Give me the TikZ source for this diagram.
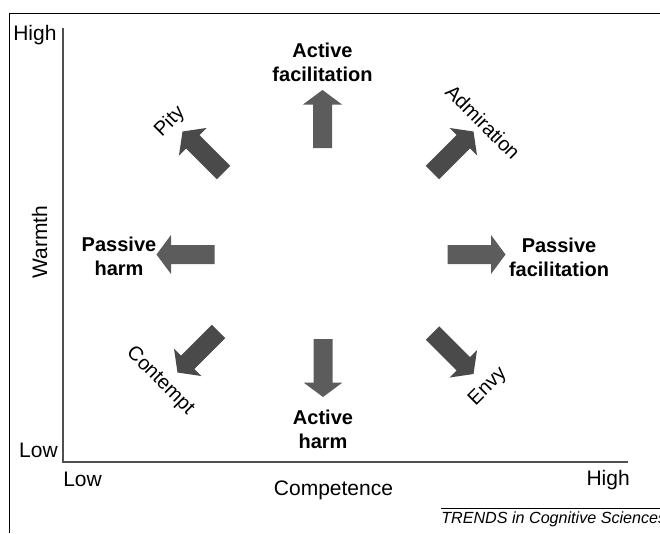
\documentclass[tikz,border=0pt]{standalone}
\usepackage{fontspec}
\setmainfont{Liberation Sans}
\usepackage{tikz}

\tikzset{
  straightarrow/.style={fill={rgb, 255:red, 92; green, 92; blue, 92 }, draw=none},
  diagarrow/.style={fill={rgb, 255:red, 74; green, 74; blue, 74 }, draw=none},
  boldlabel/.style={inner sep=0pt, align=center, font=\fontsize{15}{18.2}\selectfont\bfseries},
  plainlabel/.style={inner sep=0pt, font=\fontsize{15}{18}\selectfont},
  axislabel/.style={inner sep=0pt, font=\fontsize{15.75}{19}\selectfont},
  axisline/.style={draw={rgb, 255:red, 80; green, 80; blue, 80 }, line width=1.2pt}
}

\begin{document}
\begin{tikzpicture}[x=0.75pt,y=0.75pt,yscale=-1,xscale=1]
\useasboundingbox (0,0) rectangle (660,533);

%Frame
\draw [line width=1.3pt] (660,13.5) -- (9.5,13.5) -- (9.5,533) ;

%Axes
\coordinate (ytop) at (63,28);
\coordinate (xend) at (628,462);
\draw [axisline] (ytop) |- (xend) ;

%Shape: Up Arrow
\draw [straightarrow, shift={(322.5,119)}, rotate=-90] (-29,-9.5) -- (14.5,-9.5) -- (14.5,-19.5) -- (29,0) -- (14.5,19.5) -- (14.5,9.5) -- (-29,9.5) -- cycle ;
%Shape: Down Arrow
\draw [straightarrow, shift={(323,368)}, rotate=90] (-29,-9.5) -- (14.5,-9.5) -- (14.5,-19.5) -- (29,0) -- (14.5,19.5) -- (14.5,9.5) -- (-29,9.5) -- cycle ;
%Shape: Left Arrow
\draw [straightarrow, shift={(185.5,254.5)}, rotate=180] (-29,-9.5) -- (14.5,-9.5) -- (14.5,-19.5) -- (29,0) -- (14.5,19.5) -- (14.5,9.5) -- (-29,9.5) -- cycle ;
%Shape: Right Arrow
\draw [straightarrow, shift={(476.5,254.5)}, rotate=0] (-29,-9.5) -- (14.5,-9.5) -- (14.5,-19.5) -- (29,0) -- (14.5,19.5) -- (14.5,9.5) -- (-29,9.5) -- cycle ;
%Shape: Up Right Arrow
\draw [diagarrow, shift={(453,152)}, rotate=-45] (-29,-9.5) -- (14.5,-9.5) -- (14.5,-19.5) -- (29,0) -- (14.5,19.5) -- (14.5,9.5) -- (-29,9.5) -- cycle ;
%Shape: Up Left Arrow
\draw [diagarrow, shift={(203,152)}, rotate=-135] (-29,-9.5) -- (14.5,-9.5) -- (14.5,-19.5) -- (29,0) -- (14.5,19.5) -- (14.5,9.5) -- (-29,9.5) -- cycle ;
%Shape: Down Left Arrow
\draw [diagarrow, shift={(198,352)}, rotate=135] (-29,-9.5) -- (14.5,-9.5) -- (14.5,-19.5) -- (29,0) -- (14.5,19.5) -- (14.5,9.5) -- (-29,9.5) -- cycle ;
%Shape: Down Right Arrow
\draw [diagarrow, shift={(453,353.5)}, rotate=45] (-29,-9.5) -- (14.5,-9.5) -- (14.5,-19.5) -- (29,0) -- (14.5,19.5) -- (14.5,9.5) -- (-29,9.5) -- cycle ;

% Text Node
\draw (322.5,62.7) node [boldlabel] (actfac) {Active\\facilitation};
% Text Node
\draw (323,429) node [boldlabel] (actharm) {Active\\harm};
% Text Node
\draw (119,256) node [boldlabel] (pasharm) {Passive\\harm};
% Text Node
\draw (559,257) node [boldlabel] (pasfac) {Passive\\facilitation};
% Text Node
\draw (170,122) node [plainlabel, rotate=45] (pity) {Pity};
% Text Node
\draw (483,122) node [plainlabel, rotate=-45] (admiration) {Admiration};
% Text Node
\draw (160,381) node [plainlabel, rotate=-45] (contempt) {Contempt};
% Text Node
\draw (488,387) node [plainlabel, rotate=45] (envy) {Envy};

% Text Node
\draw (13,40) node [axislabel, anchor=base west] (warmhigh) {High};
% Text Node
\draw (58,457) node [axislabel, anchor=base east] (warmlow) {Low};
% Text Node
\draw (47,242) node [axislabel, anchor=base, rotate=90] (warmth) {Warmth};
% Text Node
\draw (63,486) node [axislabel, anchor=base west] (complow) {Low};
% Text Node
\draw (630,485) node [axislabel, anchor=base east] (comphigh) {High};
% Text Node
\draw (333.5,495) node [axislabel, anchor=base] (competence) {Competence};

%Journal rule
\draw [line width=0.6pt] (441,508) -- (660,508) ;
% Text Node
\draw (441,523) node [anchor=base west, inner sep=0pt, font=\fontsize{12.1}{14}\selectfont\itshape] (trends) {TRENDS in Cognitive Sciences};
\end{tikzpicture}
\end{document}
